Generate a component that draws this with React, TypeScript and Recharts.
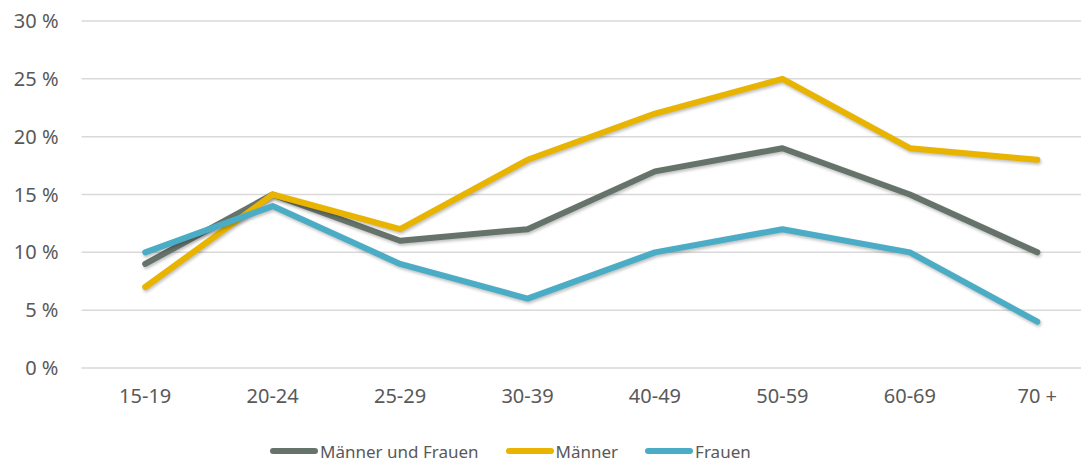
import React from 'react';
import { LineChart, Line, XAxis, YAxis, CartesianGrid, Legend } from 'recharts';

const ageGroups = ['15-19', '20-24', '25-29', '30-39', '40-49', '50-59', '60-69', '70 +'];
const maennerUndFrauen = [9, 15, 11, 12, 17, 19, 15, 10];
const maenner = [7, 15, 12, 18, 22, 25, 19, 18];
const frauen = [10, 14, 9, 6, 10, 12, 10, 4];
const yTicks = [0, 5, 10, 15, 20, 25, 30];

const seriesInfo = [
  { key: 'mf', name: 'Männer und Frauen', color: '#66736b' },
  { key: 'm', name: 'Männer', color: '#e8b400' },
  { key: 'f', name: 'Frauen', color: '#4bacc6' },
];

const FONT = '"Noto Sans", "Open Sans", sans-serif';

const LegendContent = () => (
  <div style={{ height: 30, display: 'flex', alignItems: 'center', paddingLeft: 270, fontFamily: FONT, fontSize: 17, color: '#595959' }}>
    {seriesInfo.map((s, i) => (
      <div key={s.key} style={{ display: 'flex', alignItems: 'center', marginRight: i < 2 ? 27 : 0 }}>
        <span style={{ display: 'inline-block', width: 48, height: 6, borderRadius: 3, background: s.color, marginRight: 2 }} />
        <span>{s.name}</span>
      </div>
    ))}
  </div>
);

export default function App() {
  const data = ageGroups.map((g, i) => ({
    group: g,
    mf: maennerUndFrauen[i],
    m: maenner[i],
    f: frauen[i],
  }));

  const lineShadow = { filter: 'drop-shadow(1px 2px 1.5px rgba(0,0,0,0.25))' };

  return (
    <div style={{ margin: -8, width: 1089, height: 466, overflow: 'hidden', position: 'relative', background: '#fff' }}>
      <LineChart width={1101} height={466} data={data} margin={{ top: 21, right: 0, left: 0, bottom: 0 }}>
        <CartesianGrid horizontal vertical={false} stroke="#d9d9d9" strokeWidth={1.5} />
        <XAxis
          dataKey="group"
          axisLine={false}
          tickLine={false}
          tickSize={0}
          tickMargin={21}
          height={68}
          padding={{ left: 63.7, right: 63.7 }}
          tick={{ fill: '#595959', fontSize: 20, fontFamily: FONT }}
        />
        <YAxis
          domain={[0, 30]}
          ticks={yTicks}
          interval={0}
          axisLine={false}
          tickLine={false}
          tickSize={0}
          tickMargin={23}
          width={81.5}
          tickFormatter={(v: number) => `${v} %`}
          tick={{ fill: '#595959', fontSize: 20, fontFamily: FONT }}
        />
        <Legend verticalAlign="bottom" content={<LegendContent />} wrapperStyle={{ left: 0, width: 1101 }} />
        {seriesInfo.map(s => (
          <Line
            key={s.key}
            type="linear"
            dataKey={s.key}
            name={s.name}
            stroke={s.color}
            strokeWidth={6}
            strokeLinejoin="round"
            strokeLinecap="round"
            dot={false}
            activeDot={false}
            style={lineShadow}
            isAnimationActive={false}
          />
        ))}
      </LineChart>
    </div>
  );
}
